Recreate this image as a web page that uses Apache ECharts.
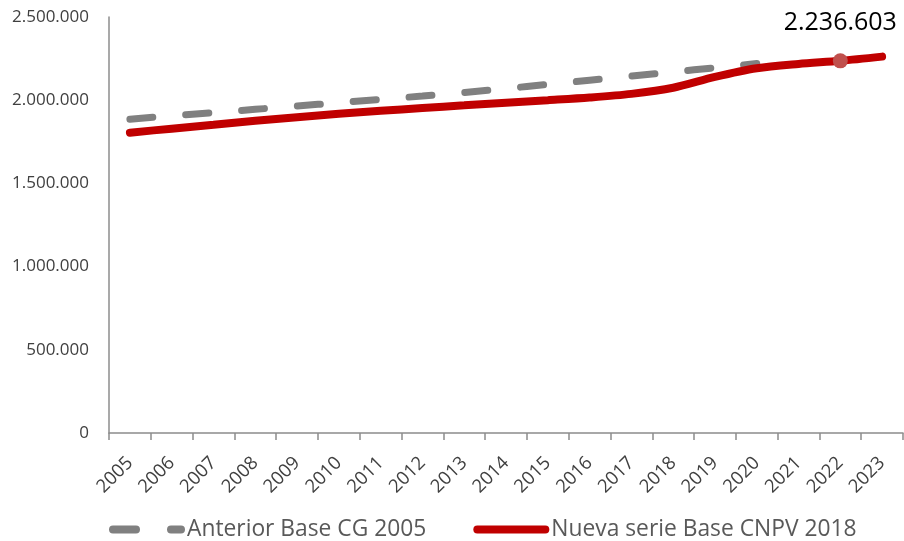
<!DOCTYPE html>
<html>
<head>
<meta charset="utf-8">
<script src="https://cdn.jsdelivr.net/npm/echarts@6/dist/echarts.min.js"></script>
<style>
html,body{margin:0;padding:0;background:#fff;}
#chart{width:904px;height:541px;}
</style>
</head>
<body>
<div id="chart"></div>
<script>
const years = ['2005','2006','2007','2008','2009','2010','2011','2012','2013','2014','2015','2016','2017','2018','2019','2020','2021','2022','2023'];
const anteriorName = 'Anterior Base CG 2005';
const nuevaName = 'Nueva serie Base CNPV 2018';
const anterior = [1886000,1906000,1925000,1945000,1965000,1985000,2005000,2025000,2046000,2070000,2095000,2120000,2145000,2170000,2195000,2220000,null,null,null];
const nueva = [1805000,1829000,1852000,1876000,1898000,1918000,1936000,1953000,1969000,1985000,2000000,2016000,2038000,2075000,2140000,2192000,2218000,2236603,2262000];
const highlightIndex = 17;
const yTicks = [0,500000,1000000,1500000,2000000,2500000];

function fmt(v){
  return String(Math.round(v)).replace(/\B(?=(\d{3})+(?!\d))/g,'.');
}

const nuevaData = nueva.map((v,i)=> i===highlightIndex ? {
  value: v,
  symbol: 'circle',
  symbolSize: 15,
  itemStyle: {color: '#C0504D'},
  label: {
    show: true, position: 'top', distance: 18,
    formatter: p => fmt(p.value),
    fontSize: 25, color: '#000', fontFamily: 'Open Sans'
  }
} : v);

const chart = echarts.init(document.getElementById('chart'), null, {renderer:'canvas'});
chart.setOption({
  animation: false,
  backgroundColor: '#fff',
  textStyle: {fontFamily: 'Open Sans'},
  grid: {left: 109, right: 1, top: 17, bottom: 108, containLabel: false},
  xAxis: {
    type: 'category',
    data: years,
    boundaryGap: true,
    axisLine: {show: true, lineStyle: {color: '#8c8c8c', width: 1.5}},
    axisTick: {show: true, alignWithLabel: false, length: 7, lineStyle: {color: '#8c8c8c', width: 1.5}},
    axisLabel: {rotate: 45, interval: 0, fontSize: 18.5, color: '#404040', margin: 27, fontFamily: 'Open Sans'},
    splitLine: {show: false}
  },
  yAxis: {
    type: 'value',
    min: yTicks[0], max: yTicks[yTicks.length-1], interval: 500000,
    axisLine: {show: true, lineStyle: {color: '#8c8c8c', width: 1.5}},
    axisTick: {show: false},
    splitLine: {show: false},
    axisLabel: {fontSize: 17, color: '#404040', margin: 20, formatter: v => fmt(v), fontFamily: 'Open Sans'}
  },
  legend: {
    top: 513,
    left: 104,
    itemGap: 47,
    itemWidth: 76,
    itemHeight: 8,
    textStyle: {fontSize: 22.8, color: '#595959', fontFamily: 'Open Sans', padding: [0,0,0,-3]},
    data: [
      {name: anteriorName, icon: 'path://M4,0 H27 A4,4 0 0 1 27,8 H4 A4,4 0 0 1 4,0 Z M62,0 H72 A4,4 0 0 1 72,8 H62 A4,4 0 0 1 62,0 Z', itemStyle: {color: '#808080'}},
      {name: nuevaName, icon: 'path://M4,0 H72 A4,4 0 0 1 72,8 H4 A4,4 0 0 1 4,0 Z', itemStyle: {color: '#C00000'}}
    ]
  },
  series: [
    {
      name: anteriorName,
      type: 'line',
      data: anterior,
      showSymbol: false,
      symbol: 'none',
      smooth: 0.3,
      lineStyle: {color: '#808080', width: 7, type: [23, 33], cap: 'round'},
      itemStyle: {color: '#808080'},
      z: 2
    },
    {
      name: nuevaName,
      type: 'line',
      data: nuevaData,
      symbol: 'none',
      showSymbol: true,
      smooth: 0.3,
      lineStyle: {color: '#C00000', width: 8, cap: 'round'},
      itemStyle: {color: '#C00000'},
      z: 3
    }
  ]
});
</script>
</body>
</html>
